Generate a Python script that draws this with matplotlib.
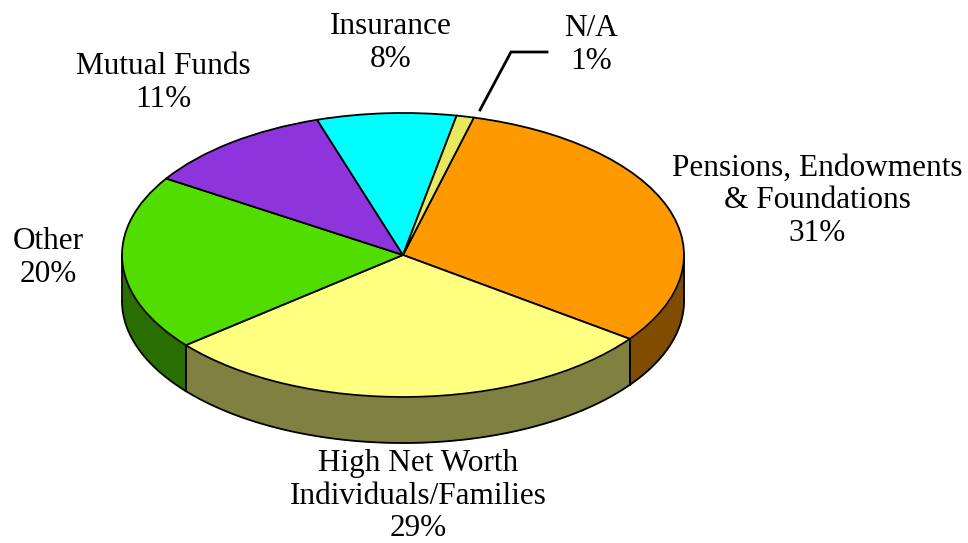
import numpy as np
import matplotlib
matplotlib.use('Agg')
import matplotlib.pyplot as plt

plt.rcParams['font.family'] = ['Liberation Serif', 'DejaVu Serif']

# 数据
categories = ['Pensions, Endowments\n& Foundations', 'High Net Worth\nIndividuals/Families',
              'Other', 'Mutual Funds', 'Insurance', 'N/A']
shares = [31, 29, 20, 11, 8, 1]
top_colors = ['#FF9900', '#FFFF80', '#52DD00', '#8E34DC', '#00FFFF', '#E9E95E']
wall_colors = ['#804D00', '#808040', '#296E00', '#471A6E', '#008080', '#75752F']

# 饼图在像素坐标中的位置
W, H = 968, 543
cx, cy = 403, 255
rx, ry = 281, 142
depth = 46 / ry
start_angle = 75.4

fig = plt.figure(figsize=(W / 100, H / 100), dpi=100)
ax = fig.add_axes([0, 0, 1, 1])

# 顺时针的扇区边界
edges = start_angle - np.cumsum([0] + shares) * 3.6

# 侧面，只画朝前的部分
for i in range(len(shares)):
    hi = edges[i] % 360
    lo = hi - shares[i] * 3.6
    # 朝前的角度范围是 180~360
    a = max(lo, -180)
    b = min(hi, 0)
    if hi > 180:
        a, b = max(lo, 180), min(hi, 360)
    if a >= b:
        continue
    t = np.radians(np.linspace(a, b, 80))
    x = np.cos(t)
    y = np.sin(t)
    ax.fill_between(x, y - depth, y, color=wall_colors[i], lw=0, zorder=1)
    ax.plot(x, y - depth, color='black', lw=1.3, zorder=2)
    for v in (a, b):
        if v % 180 != 0:
            vx = np.cos(np.radians(v))
            vy = np.sin(np.radians(v))
            ax.plot([vx, vx], [vy, vy - depth], color='black', lw=1.3, zorder=2)

# 两端的竖线
for s in (-1, 1):
    ax.plot([s, s], [0, -depth], color='black', lw=1.3, zorder=2)

wedges, _ = ax.pie(shares, colors=top_colors, startangle=start_angle, counterclock=False,
                   wedgeprops={'edgecolor': 'black', 'linewidth': 1.3, 'zorder': 3})

ax.set_aspect('auto')
ax.set_xlim(-cx / rx, (W - cx) / rx)
ax.set_ylim(-(H - cy) / ry, cy / ry)
ax.axis('off')


def px(x, y):
    return (x - cx) / rx, (cy - y) / ry


# 标签
label_pos = [(817, 201), (418, 496), (48, 258), (163, 83), (391, 43), (591, 45)]
for name, share, (lx, ly) in zip(categories, shares, label_pos):
    text = f'{name}\n{share}%'
    ax.text(*px(lx, ly), text, ha='center', va='center', fontsize=22.5,
            linespacing=1.17, color='black', zorder=5)

# N/A 引线
lead = [px(480, 110), px(511, 52), px(547, 52)]
ax.plot([p[0] for p in lead], [p[1] for p in lead], color='black', lw=2.0,
        solid_joinstyle='miter', zorder=5)

fig.savefig('out.png', dpi=100)
